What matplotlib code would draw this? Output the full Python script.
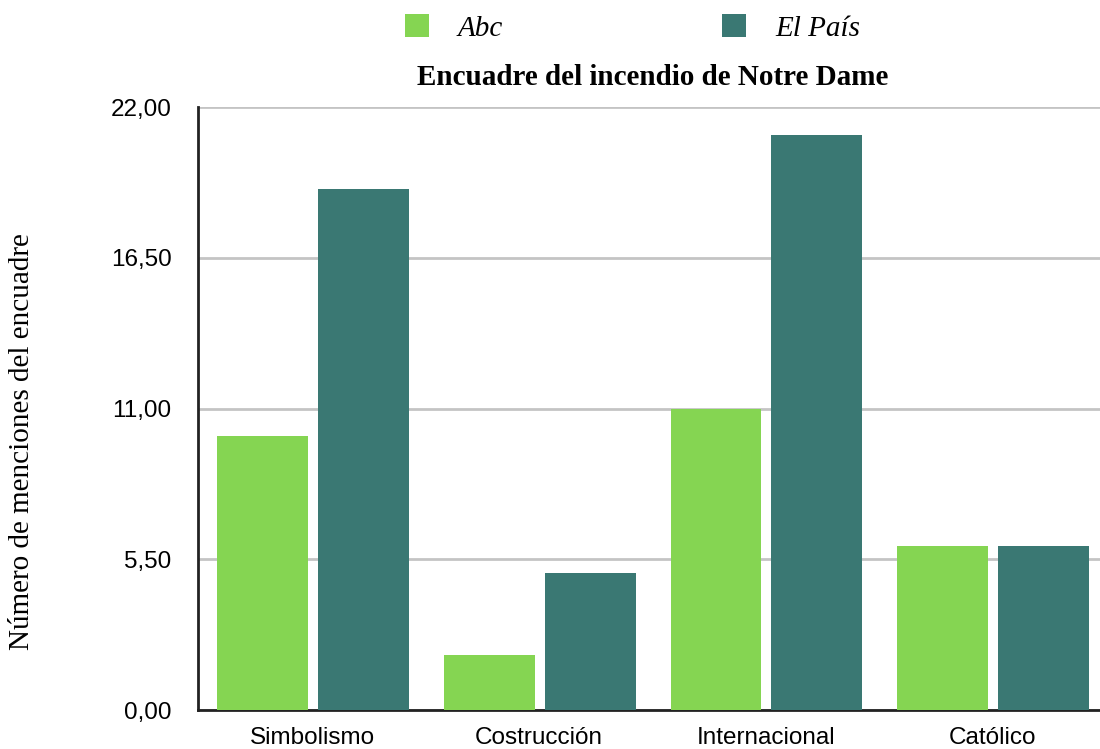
import numpy as np
import matplotlib.pyplot as plt

# Data
categorias = ['Simbolismo', 'Costrucción', 'Internacional', 'Católico']
abc = [10, 2, 11, 6]
el_pais = [19, 5, 21, 6]
yticks = [0, 5.5, 11, 16.5, 22]
yticklabels = ['0,00', '5,50', '11,00', '16,50', '22,00']

# Style
AbcStyle = {'color': '#85D552', 'label': 'Abc'}
PaisStyle = {'color': '#3A7873', 'label': 'El País'}
SansFont = ['Liberation Sans', 'DejaVu Sans']
SerifFont = ['Liberation Serif', 'DejaVu Serif']

fig = plt.figure(figsize=(11, 7.49), dpi=100)
ax = fig.add_axes([0.18, 0.052, 0.826, 0.805])

x = np.arange(len(categorias))
width = 0.40
ax.bar(x - 0.22, abc, width, zorder=3, **AbcStyle)
ax.bar(x + 0.225, el_pais, width, zorder=3, **PaisStyle)

ax.set_xlim(-0.506, 3.504)
ax.set_ylim(0, 22)
ax.set_yticks(yticks)
ax.set_yticklabels(yticklabels, fontfamily=SansFont, fontsize=17.5)
ax.set_xticks(x)
ax.set_xticklabels(categorias, fontfamily=SansFont, fontsize=17.5)
ax.tick_params(axis='y', length=0, pad=19)
ax.tick_params(axis='x', length=0, pad=12)

ax.grid(axis='y', color='#c4c4c4', linewidth=2, zorder=0)
for s in ['top', 'right']:
    ax.spines[s].set_visible(False)
ax.spines['left'].set_linewidth(2)
ax.spines['left'].set_color('#222222')
ax.spines['bottom'].set_linewidth(2)
ax.spines['bottom'].set_color('#222222')

fig.text(0.02, 1 - 442 / 749, 'Número de menciones del encuadre',
         fontfamily=SerifFont, fontsize=21, rotation=90,
         ha='center', va='center')
ax.set_title('Encuadre del incendio de Notre Dame', fontfamily=SerifFont,
             fontsize=21, fontweight='bold', pad=16)

leg = fig.legend(loc='center', bbox_to_anchor=(0.575, 1 - 28 / 749), ncol=2,
                 frameon=False, handlelength=0.83, handleheight=0.83,
                 columnspacing=7.5, handletextpad=1.0,
                 prop={'family': SerifFont, 'style': 'italic', 'size': 21})

plt.savefig('out.png', dpi=100)
